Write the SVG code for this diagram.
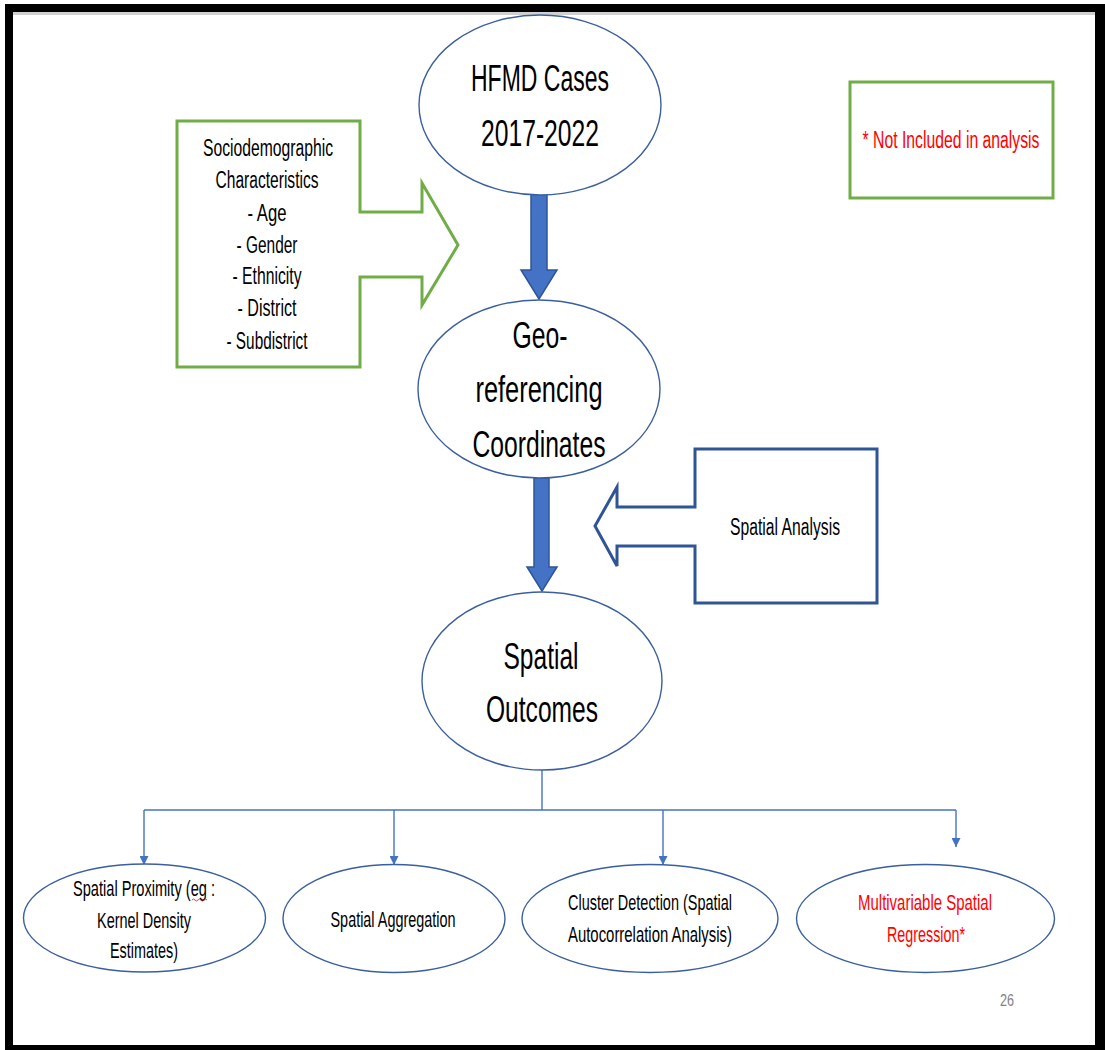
<svg xmlns="http://www.w3.org/2000/svg" width="1105" height="1050" viewBox="0 0 1105 1050">
<defs>
<style>
.ell{fill:#fff;stroke:#3A5FA0;stroke-width:1.4}
.blk{fill:#4472C4;stroke:#2F5597;stroke-width:1.5}
.green{fill:#fff;stroke:#70AD47;stroke-width:3}
.navy{fill:#fff;stroke:#2F5597;stroke-width:3}
.con{fill:none;stroke:#4472C4;stroke-width:1.4}
.t{font-family:"Liberation Sans Narrow","Liberation Sans",Arial,sans-serif;fill:#000;text-anchor:middle}
.big{font-size:37px}
.mid{font-size:23px}
.sm{font-size:22px}
.red{fill:#FF0000}
</style>
<marker id="ah" viewBox="0 0 10 10" refX="10" refY="5" markerWidth="9" markerHeight="9" markerUnits="userSpaceOnUse" orient="auto">
<path d="M0,0 L10,5 L0,10 z" fill="#4472C4"/>
</marker>
</defs>
<rect x="0" y="0" width="1105" height="1050" fill="#fff"/>
<rect x="5" y="4" width="1100" height="1046" fill="#000"/>
<rect x="13" y="12" width="1082" height="1033" fill="#fff"/>
<rect x="13" y="12" width="1082" height="3" fill="#d0d0d0"/>

<g id="connectors">
<path class="blk" d="M531,194 H547 V270 H557 L539,299 L521,270 H531 Z"/>
<path class="blk" d="M534,478 H549 V567 H557 L542,591 L527,567 H534 Z"/>
<path class="con" d="M542,770 V810"/>
<path class="con" d="M144,810 H956"/>
<path class="con" d="M144,810 V865" marker-end="url(#ah)"/>
<path class="con" d="M394,810 V865" marker-end="url(#ah)"/>
<path class="con" d="M663,810 V865" marker-end="url(#ah)"/>
<path class="con" d="M956,810 V847" marker-end="url(#ah)"/>
</g>

<g id="hfmd">
<ellipse class="ell" cx="540" cy="105" rx="121" ry="90"/>
<text class="t big" x="540" y="91" textLength="138" lengthAdjust="spacingAndGlyphs">HFMD Cases</text>
<text class="t big" x="540" y="146" textLength="118" lengthAdjust="spacingAndGlyphs">2017-2022</text>
</g>

<g id="socio">
<path class="green" d="M177,121 H360 V212 H422 V183 L458,245 L422,305 V277 H360 V367 H177 Z"/>
<text class="t mid" x="268" y="156" textLength="130" lengthAdjust="spacingAndGlyphs">Sociodemographic</text>
<text class="t mid" x="267" y="188" textLength="103" lengthAdjust="spacingAndGlyphs">Characteristics</text>
<text class="t mid" x="267" y="221" textLength="39" lengthAdjust="spacingAndGlyphs">- Age</text>
<text class="t mid" x="267" y="253" textLength="61" lengthAdjust="spacingAndGlyphs">- Gender</text>
<text class="t mid" x="267" y="284" textLength="69" lengthAdjust="spacingAndGlyphs">- Ethnicity</text>
<text class="t mid" x="267" y="316" textLength="59" lengthAdjust="spacingAndGlyphs">- District</text>
<text class="t mid" x="267" y="349" textLength="81" lengthAdjust="spacingAndGlyphs">- Subdistrict</text>
</g>

<g id="note">
<rect class="green" x="850" y="82" width="203" height="116"/>
<text class="t mid red" x="951" y="148" textLength="177" lengthAdjust="spacingAndGlyphs">* Not Included in analysis</text>
</g>

<g id="geo">
<ellipse class="ell" cx="539" cy="389" rx="121" ry="89"/>
<text class="t big" x="540" y="348" textLength="55" lengthAdjust="spacingAndGlyphs">Geo-</text>
<text class="t big" x="539" y="402" textLength="127" lengthAdjust="spacingAndGlyphs">referencing</text>
<text class="t big" x="539" y="457" textLength="133" lengthAdjust="spacingAndGlyphs">Coordinates</text>
</g>

<g id="spatial-analysis">
<path class="navy" d="M877,449 V603 H695 V546 H617 V566 L595,526 L617,487 V507 H695 V449 Z"/>
<text class="t mid" x="785" y="535" textLength="110" lengthAdjust="spacingAndGlyphs">Spatial Analysis</text>
</g>

<g id="outcomes">
<ellipse class="ell" cx="542" cy="681" rx="120" ry="89"/>
<text class="t big" x="541" y="669" textLength="75" lengthAdjust="spacingAndGlyphs">Spatial</text>
<text class="t big" x="542" y="722" textLength="112" lengthAdjust="spacingAndGlyphs">Outcomes</text>
</g>

<g id="proximity">
<ellipse class="ell" cx="144.5" cy="918" rx="121" ry="54"/>
<text class="t sm" x="144" y="896" textLength="142" lengthAdjust="spacingAndGlyphs">Spatial Proximity (eg :</text>
<path d="M192,900 q1.5,-2 3,0 t3,0 t3,0 t3,0 t3,0" fill="none" stroke="#FF0000" stroke-width="0.8"/>
<text class="t sm" x="144" y="928" textLength="94" lengthAdjust="spacingAndGlyphs">Kernel Density</text>
<text class="t sm" x="144" y="958" textLength="68" lengthAdjust="spacingAndGlyphs">Estimates)</text>
</g>

<g id="aggregation">
<ellipse class="ell" cx="394" cy="918.5" rx="111" ry="54"/>
<text class="t sm" x="393" y="927" textLength="125" lengthAdjust="spacingAndGlyphs">Spatial Aggregation</text>
</g>

<g id="cluster">
<ellipse class="ell" cx="650" cy="918.5" rx="128" ry="54"/>
<text class="t sm" x="650" y="910" textLength="164" lengthAdjust="spacingAndGlyphs">Cluster Detection (Spatial</text>
<text class="t sm" x="650" y="942" textLength="164" lengthAdjust="spacingAndGlyphs">Autocorrelation Analysis)</text>
</g>

<g id="regression">
<ellipse class="ell" cx="925.5" cy="918.5" rx="129" ry="54"/>
<text class="t sm red" x="925" y="910" textLength="134" lengthAdjust="spacingAndGlyphs">Multivariable Spatial</text>
<text class="t sm red" x="926" y="942" textLength="78" lengthAdjust="spacingAndGlyphs">Regression*</text>
</g>

<text class="t" x="1007" y="1006" font-size="17" style="fill:#7f7f7f" textLength="14" lengthAdjust="spacingAndGlyphs">26</text>
</svg>
